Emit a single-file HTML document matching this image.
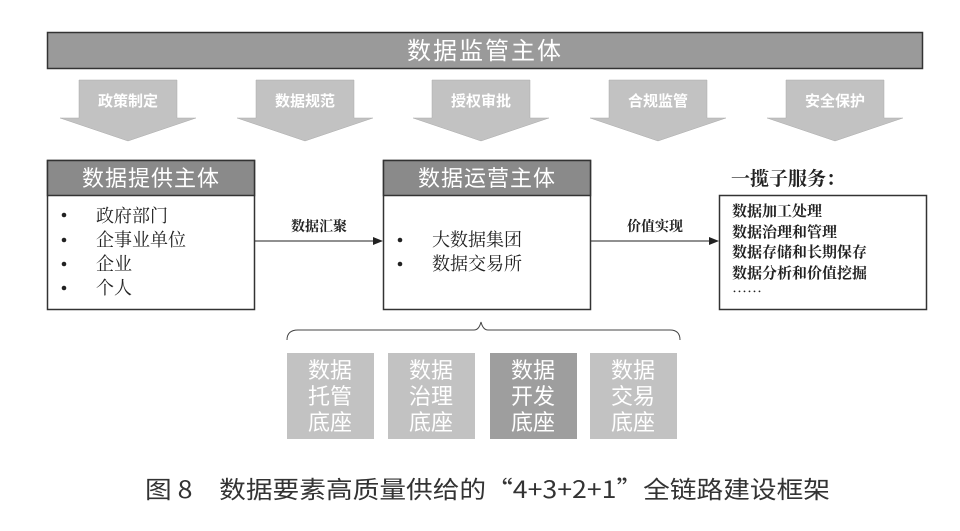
<!DOCTYPE html>
<html><head><meta charset="utf-8"><style>
html,body{margin:0;padding:0;background:#fff;}
svg{display:block;font-family:"Liberation Sans","Noto Sans CJK SC",sans-serif;}
</style></head><body>
<svg width="960" height="531" viewBox="0 0 960 531" xmlns="http://www.w3.org/2000/svg">
<defs><marker id="ah" markerWidth="10" markerHeight="8" refX="9" refY="4" orient="auto" markerUnits="userSpaceOnUse"><path d="M0,0 L10,4 L0,8 z" fill="#222"/></marker></defs>
<rect x="47.5" y="32.5" width="875" height="36" fill="#9a9a9a" stroke="#333" stroke-width="1.5"/>
<text x="485" y="59" font-size="24" fill="#fff" text-anchor="middle" font-family="Noto Sans CJK SC, sans-serif" letter-spacing="2">数据监管主体</text>
<g fill="#c2c2c2" stroke="#aaa" stroke-width="0.5">
<path d="M79,80 H177 V118 H196 L128,141 L60,118 H79 Z"/>
<path d="M256,80 H354 V118 H373 L305,141 L237,118 H256 Z"/>
<path d="M432,80 H530 V118 H549 L481,141 L413,118 H432 Z"/>
<path d="M609,80 H707 V118 H726 L658,141 L590,118 H609 Z"/>
<path d="M786,80 H884 V118 H903 L835,141 L767,118 H786 Z"/>
</g>
<g font-size="15" fill="#fff" text-anchor="middle" font-family="Noto Sans CJK SC, sans-serif" font-weight="bold">
<text x="128" y="106">政策制定</text><text x="305" y="106">数据规范</text><text x="481" y="106">授权审批</text><text x="658" y="106">合规监管</text><text x="835" y="106">安全保护</text>
</g>
<rect x="47.5" y="160.5" width="207" height="149" fill="#fff" stroke="#333" stroke-width="1.5"/>
<rect x="47.5" y="160.5" width="207" height="35" fill="#8a8a8a" stroke="#333" stroke-width="1.5"/>
<text x="151" y="186" font-size="22" fill="#fff" text-anchor="middle" font-family="Noto Sans CJK SC, sans-serif" letter-spacing="1">数据提供主体</text>
<g font-size="18" fill="#222" font-family="Noto Serif CJK SC, serif">
<circle cx="64" cy="215" r="2.3"/><circle cx="64" cy="240" r="2.3"/><circle cx="64" cy="264" r="2.3"/><circle cx="64" cy="288" r="2.3"/>
<text x="96" y="222">政府部门</text><text x="96" y="246">企事业单位</text><text x="96" y="270">企业</text><text x="96" y="294">个人</text>
</g>
<rect x="383.5" y="160.5" width="207" height="149" fill="#fff" stroke="#333" stroke-width="1.5"/>
<rect x="383.5" y="160.5" width="207" height="35" fill="#8a8a8a" stroke="#333" stroke-width="1.5"/>
<text x="487" y="186" font-size="22" fill="#fff" text-anchor="middle" font-family="Noto Sans CJK SC, sans-serif" letter-spacing="1">数据运营主体</text>
<g font-size="18" fill="#222" font-family="Noto Serif CJK SC, serif">
<circle cx="400" cy="240" r="2.3"/><circle cx="400" cy="264" r="2.3"/>
<text x="432" y="246">大数据集团</text><text x="432" y="270">数据交易所</text>
</g>
<line x1="255" y1="241" x2="382" y2="241" stroke="#222" stroke-width="1" marker-end="url(#ah)"/>
<text x="319" y="231" font-size="14" fill="#222" text-anchor="middle" font-family="Noto Serif CJK SC, serif" font-weight="bold">数据汇聚</text>
<line x1="591" y1="241" x2="718" y2="241" stroke="#222" stroke-width="1" marker-end="url(#ah)"/>
<text x="655" y="231" font-size="14" fill="#222" text-anchor="middle" font-family="Noto Serif CJK SC, serif" font-weight="bold">价值实现</text>
<text x="731" y="185" font-size="19" fill="#222" font-family="Noto Serif CJK SC, serif" font-weight="bold">一揽子服务：</text>
<rect x="719.5" y="195.5" width="207" height="114" fill="#fff" stroke="#333" stroke-width="1.5"/>
<g font-size="15" fill="#222" font-family="Noto Serif CJK SC, serif" font-weight="bold">
<text x="732" y="216">数据加工处理</text><text x="732" y="237">数据治理和管理</text><text x="732" y="257">数据存储和长期保存</text><text x="732" y="278">数据分析和价值挖掘</text><text x="732" y="297">……</text>
</g>
<path d="M287,340 Q287,330 298,330 H474 Q479,330 481,322 Q483,330 488,330 H670 Q680,330 680,340" fill="none" stroke="#444" stroke-width="1"/>
<rect x="287" y="353" width="87" height="86" fill="#c2c2c2"/>
<rect x="388" y="353" width="87" height="86" fill="#c2c2c2"/>
<rect x="490" y="353" width="87" height="86" fill="#9e9e9e"/>
<rect x="590" y="353" width="87" height="86" fill="#c2c2c2"/>
<g font-size="22" fill="#fff" text-anchor="middle" font-family="Noto Sans CJK SC, sans-serif">
<text x="330" y="378">数据</text><text x="330" y="404">托管</text><text x="330" y="430">底座</text>
<text x="431" y="378">数据</text><text x="431" y="404">治理</text><text x="431" y="430">底座</text>
<text x="533" y="378">数据</text><text x="533" y="404">开发</text><text x="533" y="430">底座</text>
<text x="633" y="378">数据</text><text x="633" y="404">交易</text><text x="633" y="430">底座</text>
</g>
<text x="145" y="498" font-size="24" fill="#333" font-family="Noto Sans CJK SC, sans-serif" textLength="685" lengthAdjust="spacingAndGlyphs">图 8　数据要素高质量供给的“4+3+2+1”全链路建设框架</text>
</svg>
</body></html>
